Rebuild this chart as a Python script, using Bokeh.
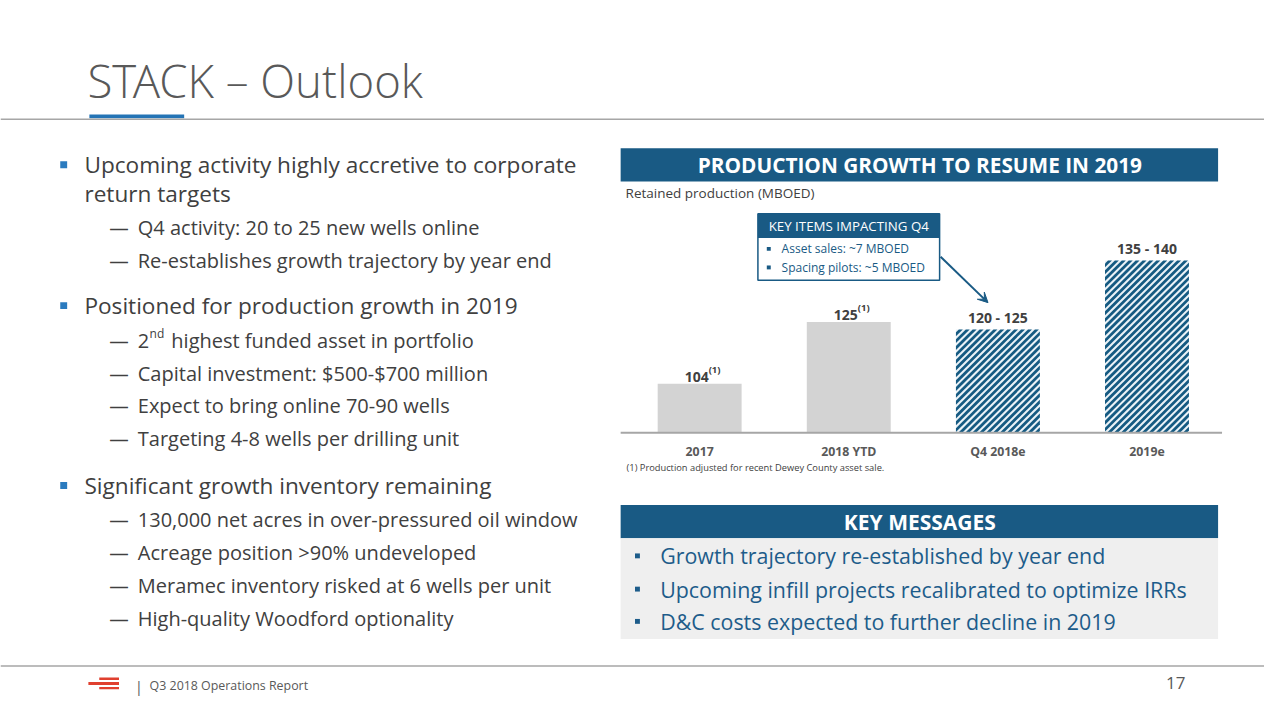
from bokeh.plotting import figure
from bokeh.models import Range1d, ColumnDataSource, Arrow, VeeHead
from bokeh.core.properties import value
from bokeh.embed import file_html
from bokeh.resources import INLINE

# ---------------- data ----------------
categories = ["2017", "2018 YTD", "Q4 2018e", "2019e"]
bar_values = [104, 125, 122.5, 146]          # drawn bar heights (MBOED)
value_labels = ["104", "125", "120 - 125", "135 - 140"]
footnote_marks = ["(1)", "(1)", "", ""]
is_estimate = [False, False, True, True]
axis_floor = 87.3                              # value at the chart baseline

title_text = "STACK – Outlook"
chart_title = "PRODUCTION GROWTH TO RESUME IN 2019"
chart_subtitle = "Retained production (MBOED)"
chart_footnote = "(1) Production adjusted for recent Dewey County asset sale."
key_items_title = "KEY ITEMS IMPACTING Q4"
key_items = ["Asset sales: ~7 MBOED", "Spacing pilots: ~5 MBOED"]
messages_title = "KEY MESSAGES"
key_messages = [
    "Growth trajectory re-established by year end",
    "Upcoming infill projects recalibrated to optimize IRRs",
    "D&C costs expected to further decline in 2019",
]
bullets = [
    ["Upcoming activity highly accretive to corporate", "return targets"],
    ["Positioned for production growth in 2019"],
    ["Significant growth inventory remaining"],
]
sub_bullets = [
    ["Q4 activity: 20 to 25 new wells online",
     "Re-establishes growth trajectory by year end"],
    ["2|nd|highest funded asset in portfolio",
     "Capital investment: $500-$700 million",
     "Expect to bring online 70-90 wells",
     "Targeting 4-8 wells per drilling unit"],
    ["130,000 net acres in over-pressured oil window",
     "Acreage position >90% undeveloped",
     "Meramec inventory risked at 6 wells per unit",
     "High-quality Woodford optionality"],
]
footer_text = "Q3 2018 Operations Report"
page_number = "17"

# ---------------- styling / layout ----------------
FONT = "Open Sans"
BLUE = "#195a84"
HATCH = "#155a82"
GRAY_BAR = "#d3d3d3"
TEXT = "#404040"
TITLE_GRAY = "#595959"
RULE = "#a6a6a6"
MSG_BLUE = "#1d5c8a"
BULLET_BLUE = "#2b7bbf"

SW, SH = 1280, 720          # slide coordinate space
W, H = 1264, 704            # figure size in the page
p = figure(width=W, height=H, x_range=Range1d(0, SW), y_range=Range1d(SH, 0),
           output_backend="svg", toolbar_location=None, min_border=0,
           x_axis_location=None, y_axis_location=None)
p.grid.visible = False
p.outline_line_color = None
p.background_fill_color = "white"
p.border_fill_color = "white"


def txt(x, y, s, size, color, bold=False, align="left", font=FONT, baseline="middle"):
    p.text(x=[x], y=[y], text=[s], text_font=value(font), text_font_size=f"{size}px",
           text_color=color, text_align=align, text_baseline=baseline,
           text_font_style="bold" if bold else "normal")


# ---- title ----
txt(88, 81, title_text, 45.5, TITLE_GRAY, font="Open Sans Light")
p.quad(left=90, right=186, top=116.5, bottom=120.5, fill_color="#2474b5", line_color=None)
p.segment(x0=0, y0=121.5, x1=SW, y1=121.5, line_color=RULE, line_width=1.5)

# ---- left bullets ----
main_y = [[168, 197], [312], [496]]
sub_y = [[232, 266], [348, 381, 414, 448], [531, 565, 598, 632]]
for lines, ys in zip(bullets, main_y):
    p.rect(x=[64], y=[ys[0]], width=7, height=7, fill_color=BULLET_BLUE, line_color=None)
    for s, y in zip(lines, ys):
        txt(85, y, s, 22.6, TEXT)
for lines, ys in zip(sub_bullets, sub_y):
    for s, y in zip(lines, ys):
        txt(110, y, "—", 19.5, TEXT)
        if "|" in s:
            a, sup, rest = s.split("|")
            txt(139, y, a, 20, TEXT)
            txt(151, y - 7, sup, 12, TEXT)
            txt(173, y, rest, 20, TEXT)
        else:
            txt(139, y, s, 20, TEXT)

# ---- chart panel header ----
p.quad(left=628, right=1233, top=151, bottom=185, fill_color=BLUE, line_color=None)
txt(931, 168.5, chart_title, 20.8, "white", bold=True, align="center")
txt(633, 197, chart_subtitle, 13.5, TEXT)

# ---- bar chart (own scales) ----
CX0, STEP, BASE_Y, PX_PER = 708, 151, 442, 3.0
p.extra_x_ranges = {"cat": Range1d(start=(0 - CX0) / STEP, end=(SW - CX0) / STEP)}
p.extra_y_ranges = {"prod": Range1d(start=axis_floor - (SH - BASE_Y) / PX_PER,
                                    end=axis_floor + BASE_Y / PX_PER)}
idx = list(range(len(categories)))
act = ColumnDataSource(dict(x=[i for i in idx if not is_estimate[i]],
                            top=[bar_values[i] for i in idx if not is_estimate[i]]))
est = ColumnDataSource(dict(x=[i for i in idx if is_estimate[i]],
                            top=[bar_values[i] for i in idx if is_estimate[i]]))
BAR_PX = 85
bw = BAR_PX / STEP
p.vbar(x="x", top="top", bottom=axis_floor, width=bw, source=act, fill_color=GRAY_BAR,
       line_color=None, x_range_name="cat", y_range_name="prod")
p.vbar(x="x", top="top", bottom=axis_floor, width=bw, source=est, fill_color="#eaf2f7",
       line_color=None, x_range_name="cat", y_range_name="prod")


# diagonal "/" stripes inside each estimate bar (computed from the bar's own data)
def clip_halfplane(poly, f):
    out = []
    n = len(poly)
    for k in range(n):
        a, b = poly[k], poly[(k + 1) % n]
        fa, fb = f(*a), f(*b)
        if fa >= 0:
            out.append(a)
        if (fa >= 0) != (fb >= 0):
            t = fa / (fa - fb)
            out.append((a[0] + t * (b[0] - a[0]), a[1] + t * (b[1] - a[1])))
    return out


PERIOD, DARK = 7.0, 4.0   # stripe period / dark thickness (px, horizontal)
sx, sy = [], []
for i in idx:
    if not is_estimate[i]:
        continue
    w_px = BAR_PX
    h_px = (bar_values[i] - axis_floor) * PX_PER
    rect = [(0, 0), (w_px, 0), (w_px, h_px), (0, h_px)]
    c = -h_px - DARK
    while c < w_px:
        band = clip_halfplane(rect, lambda x, y, c=c: (x - y) - c)
        band = clip_halfplane(band, lambda x, y, c=c: c + DARK - (x - y))
        if len(band) >= 3:
            sx.append([i - bw / 2 + x / STEP for x, _ in band])
            sy.append([axis_floor + y / PX_PER for _, y in band])
        c += PERIOD
p.patches(xs=sx, ys=sy, fill_color=HATCH, line_color=None,
          x_range_name="cat", y_range_name="prod")

p.segment(x0=628, y0=BASE_Y, x1=1237, y1=BASE_Y, line_color=RULE, line_width=2)

with_fn = [i for i in idx if footnote_marks[i]]
no_fn = [i for i in idx if not footnote_marks[i]]
p.text(x=[i for i in with_fn], y=[bar_values[i] for i in with_fn],
       text=[value_labels[i] for i in with_fn], x_range_name="cat", y_range_name="prod",
       text_align="right", text_baseline="bottom", x_offset=9, y_offset=-2,
       text_font=value(FONT), text_font_size="14px", text_font_style="bold", text_color=TEXT)
p.text(x=[i for i in with_fn], y=[bar_values[i] for i in with_fn],
       text=[footnote_marks[i] for i in with_fn], x_range_name="cat", y_range_name="prod",
       text_align="left", text_baseline="bottom", x_offset=9, y_offset=-8,
       text_font=value(FONT), text_font_size="9.5px", text_font_style="bold", text_color=TEXT)
p.text(x=[i for i in no_fn], y=[bar_values[i] for i in no_fn],
       text=[value_labels[i] for i in no_fn], x_range_name="cat", y_range_name="prod",
       text_align="center", text_baseline="bottom", y_offset=-2,
       text_font=value(FONT), text_font_size="14px", text_font_style="bold", text_color=TEXT)
p.text(x=idx, y=461, text=categories, x_range_name="cat",
       text_align="center", text_baseline="middle",
       text_font=value(FONT), text_font_size="12.3px", text_font_style="bold", text_color=TITLE_GRAY)
txt(634, 478, chart_footnote, 9.3, TEXT)

# ---- key items callout ----
p.quad(left=767, right=951, top=218, bottom=286, fill_color="white", line_color=BLUE, line_width=1.5)
p.quad(left=767, right=951, top=218, bottom=243, fill_color=BLUE, line_color=None)
txt(859, 230.5, key_items_title, 13.3, "white", align="center")
for s, y in zip(key_items, [254, 273]):
    p.rect(x=[778], y=[y], width=4, height=4, fill_color=BLUE, line_color=None)
    txt(791, y, s, 12, BLUE)
p.add_layout(Arrow(end=VeeHead(size=10, fill_color=BLUE, line_color=BLUE),
                   x_start=952, y_start=262, x_end=1000, y_end=309,
                   line_color=BLUE, line_width=2))

# ---- key messages ----
p.quad(left=628, right=1233, top=516, bottom=550, fill_color=BLUE, line_color=None)
txt(931, 533.5, messages_title, 21, "white", bold=True, align="center")
p.quad(left=628, right=1233, top=550, bottom=653, fill_color="#efefef", line_color=None)
for s, y in zip(key_messages, [568, 602, 635]):
    p.rect(x=[645], y=[y], width=5, height=5, fill_color=MSG_BLUE, line_color=None)
    txt(668, y, s, 21.4, MSG_BLUE)

# ---- footer ----
p.segment(x0=0, y0=680.5, x1=SW, y1=680.5, line_color=RULE, line_width=1.5)
p.quad(left=[100, 89, 100], right=[120, 120, 120], top=[692.5, 697, 702], bottom=[695, 700, 704.5],
       fill_color="#e0402f", line_color=None)
txt(136, 701, "|", 15, TITLE_GRAY)
txt(151, 701, footer_text, 12.4, TITLE_GRAY)
txt(1190, 698, page_number, 17, TITLE_GRAY, align="center")

open("out.html", "w").write(file_html(p, INLINE))
